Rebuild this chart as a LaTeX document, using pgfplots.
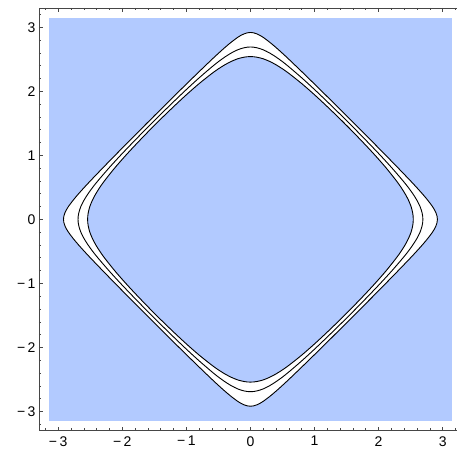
\documentclass[border=0pt]{standalone}
\usepackage{pgfplots}
\pgfplotsset{compat=1.18}
\usepackage{fontspec}
\setmainfont{Liberation Sans}
\definecolor{shade}{RGB}{178,202,255}
\definecolor{framecol}{RGB}{70,70,70}
\newcommand{\mn}{−\kern2.5pt}

\begin{document}
\begin{tikzpicture}
\begin{axis}[
  name=ax,
  scale only axis,
  width=422.9pt, height=422.7pt,
  xmin=-3.3, xmax=3.3, ymin=-3.3, ymax=3.3,
  axis on top,
  axis line style={framecol, line width=0.7pt},
  every tick/.style={framecol, line width=0.6pt},
  tick align=inside,
  major tick length=4pt,
  minor tick length=2.3pt,
  xtick={-3,-2,-1,0,1,2,3},
  ytick={-3,-2,-1,0,1,2,3},
  minor xtick={-3.2,-2.8,-2.6,-2.4,-2.2,-1.8,-1.6,-1.4,-1.2,-0.8,-0.6,-0.4,-0.2,0.2,0.4,0.6,0.8,1.2,1.4,1.6,1.8,2.2,2.4,2.6,2.8,3.2},
  minor ytick={-3.2,-2.8,-2.6,-2.4,-2.2,-1.8,-1.6,-1.4,-1.2,-0.8,-0.6,-0.4,-0.2,0.2,0.4,0.6,0.8,1.2,1.4,1.6,1.8,2.2,2.4,2.6,2.8,3.2},
  xticklabels={\mn3,\mn2,\mn1,0,1,2,3},
  yticklabels={\mn3,\mn2,\mn1,0,1,2,3},
  ticklabel style={font=\fontsize{14}{16}\selectfont, black},
  xticklabel style={yshift=-2pt},
  xtick pos=both, ytick pos=both,
  xticklabel pos=lower, yticklabel pos=left,
]
% shaded square
\addplot[fill=shade, draw=none] coordinates {(-3.1416,-3.1416) (3.1416,-3.1416) (3.1416,3.1416) (-3.1416,3.1416)} -- cycle;

% outer contour, white inside
\addplot[smooth, fill=white, draw=black, line width=0.9pt] coordinates {
(0,2.918) (0.05,2.912) (0.1,2.896) (0.15,2.872) (0.2,2.841) (0.3,2.766) (0.4,2.682) (0.5,2.592) (0.6,2.499) (0.8,2.307) (1.0,2.112) (1.2,1.915) (1.4,1.716) (1.5,1.617) (1.558,1.558) (1.617,1.5) (1.716,1.4) (1.915,1.2) (2.112,1.0) (2.307,0.8) (2.499,0.6) (2.592,0.5) (2.682,0.4) (2.766,0.3) (2.841,0.2) (2.872,0.15) (2.896,0.1) (2.912,0.05) (2.918,0)
(2.912,-0.05) (2.896,-0.1) (2.872,-0.15) (2.841,-0.2) (2.766,-0.3) (2.682,-0.4) (2.592,-0.5) (2.499,-0.6) (2.307,-0.8) (2.112,-1.0) (1.915,-1.2) (1.716,-1.4) (1.617,-1.5) (1.558,-1.558) (1.5,-1.617) (1.4,-1.716) (1.2,-1.915) (1.0,-2.112) (0.8,-2.307) (0.6,-2.499) (0.5,-2.592) (0.4,-2.682) (0.3,-2.766) (0.2,-2.841) (0.15,-2.872) (0.1,-2.896) (0.05,-2.912) (0,-2.918)
(-0.05,-2.912) (-0.1,-2.896) (-0.15,-2.872) (-0.2,-2.841) (-0.3,-2.766) (-0.4,-2.682) (-0.5,-2.592) (-0.6,-2.499) (-0.8,-2.307) (-1.0,-2.112) (-1.2,-1.915) (-1.4,-1.716) (-1.5,-1.617) (-1.558,-1.558) (-1.617,-1.5) (-1.716,-1.4) (-1.915,-1.2) (-2.112,-1.0) (-2.307,-0.8) (-2.499,-0.6) (-2.592,-0.5) (-2.682,-0.4) (-2.766,-0.3) (-2.841,-0.2) (-2.872,-0.15) (-2.896,-0.1) (-2.912,-0.05) (-2.918,0)
(-2.912,0.05) (-2.896,0.1) (-2.872,0.15) (-2.841,0.2) (-2.766,0.3) (-2.682,0.4) (-2.592,0.5) (-2.499,0.6) (-2.307,0.8) (-2.112,1.0) (-1.915,1.2) (-1.716,1.4) (-1.617,1.5) (-1.558,1.558) (-1.5,1.617) (-1.4,1.716) (-1.2,1.915) (-1.0,2.112) (-0.8,2.307) (-0.6,2.499) (-0.5,2.592) (-0.4,2.682) (-0.3,2.766) (-0.2,2.841) (-0.15,2.872) (-0.1,2.896) (-0.05,2.912) (0,2.918)
};

% inner contour, shaded inside
\addplot[smooth, fill=shade, draw=black, line width=0.9pt] coordinates {
(0,2.541) (0.05,2.539) (0.1,2.532) (0.15,2.521) (0.2,2.507) (0.3,2.466) (0.4,2.413) (0.5,2.350) (0.6,2.279) (0.8,2.120) (1.0,1.945) (1.2,1.759) (1.4,1.566) (1.483,1.483) (1.566,1.4) (1.759,1.2) (1.945,1.0) (2.120,0.8) (2.279,0.6) (2.350,0.5) (2.413,0.4) (2.466,0.3) (2.507,0.2) (2.521,0.15) (2.532,0.1) (2.539,0.05) (2.541,0)
(2.539,-0.05) (2.532,-0.1) (2.521,-0.15) (2.507,-0.2) (2.466,-0.3) (2.413,-0.4) (2.350,-0.5) (2.279,-0.6) (2.120,-0.8) (1.945,-1.0) (1.759,-1.2) (1.566,-1.4) (1.483,-1.483) (1.4,-1.566) (1.2,-1.759) (1.0,-1.945) (0.8,-2.120) (0.6,-2.279) (0.5,-2.350) (0.4,-2.413) (0.3,-2.466) (0.2,-2.507) (0.15,-2.521) (0.1,-2.532) (0.05,-2.539) (0,-2.541)
(-0.05,-2.539) (-0.1,-2.532) (-0.15,-2.521) (-0.2,-2.507) (-0.3,-2.466) (-0.4,-2.413) (-0.5,-2.350) (-0.6,-2.279) (-0.8,-2.120) (-1.0,-1.945) (-1.2,-1.759) (-1.4,-1.566) (-1.483,-1.483) (-1.566,-1.4) (-1.759,-1.2) (-1.945,-1.0) (-2.120,-0.8) (-2.279,-0.6) (-2.350,-0.5) (-2.413,-0.4) (-2.466,-0.3) (-2.507,-0.2) (-2.521,-0.15) (-2.532,-0.1) (-2.539,-0.05) (-2.541,0)
(-2.539,0.05) (-2.532,0.1) (-2.521,0.15) (-2.507,0.2) (-2.466,0.3) (-2.413,0.4) (-2.350,0.5) (-2.279,0.6) (-2.120,0.8) (-1.945,1.0) (-1.759,1.2) (-1.566,1.4) (-1.483,1.483) (-1.4,1.566) (-1.2,1.759) (-1.0,1.945) (-0.8,2.120) (-0.6,2.279) (-0.5,2.350) (-0.4,2.413) (-0.3,2.466) (-0.2,2.507) (-0.15,2.521) (-0.1,2.532) (-0.05,2.539) (0,2.541)
};

% middle contour
\addplot[smooth, draw=black, line width=0.9pt] coordinates {
(0,2.691) (0.05,2.688) (0.1,2.679) (0.15,2.665) (0.2,2.647) (0.3,2.597) (0.4,2.534) (0.5,2.462) (0.6,2.382) (0.8,2.210) (1.0,2.027) (1.2,1.836) (1.4,1.641) (1.5,1.542) (1.521,1.521) (1.542,1.5) (1.641,1.4) (1.836,1.2) (2.027,1.0) (2.210,0.8) (2.382,0.6) (2.462,0.5) (2.534,0.4) (2.597,0.3) (2.647,0.2) (2.665,0.15) (2.679,0.1) (2.688,0.05) (2.691,0)
(2.688,-0.05) (2.679,-0.1) (2.665,-0.15) (2.647,-0.2) (2.597,-0.3) (2.534,-0.4) (2.462,-0.5) (2.382,-0.6) (2.210,-0.8) (2.027,-1.0) (1.836,-1.2) (1.641,-1.4) (1.542,-1.5) (1.521,-1.521) (1.5,-1.542) (1.4,-1.641) (1.2,-1.836) (1.0,-2.027) (0.8,-2.210) (0.6,-2.382) (0.5,-2.462) (0.4,-2.534) (0.3,-2.597) (0.2,-2.647) (0.15,-2.665) (0.1,-2.679) (0.05,-2.688) (0,-2.691)
(-0.05,-2.688) (-0.1,-2.679) (-0.15,-2.665) (-0.2,-2.647) (-0.3,-2.597) (-0.4,-2.534) (-0.5,-2.462) (-0.6,-2.382) (-0.8,-2.210) (-1.0,-2.027) (-1.2,-1.836) (-1.4,-1.641) (-1.5,-1.542) (-1.521,-1.521) (-1.542,-1.5) (-1.641,-1.4) (-1.836,-1.2) (-2.027,-1.0) (-2.210,-0.8) (-2.382,-0.6) (-2.462,-0.5) (-2.534,-0.4) (-2.597,-0.3) (-2.647,-0.2) (-2.665,-0.15) (-2.679,-0.1) (-2.688,-0.05) (-2.691,0)
(-2.688,0.05) (-2.679,0.1) (-2.665,0.15) (-2.647,0.2) (-2.597,0.3) (-2.534,0.4) (-2.462,0.5) (-2.382,0.6) (-2.210,0.8) (-2.027,1.0) (-1.836,1.2) (-1.641,1.4) (-1.542,1.5) (-1.521,1.521) (-1.5,1.542) (-1.4,1.641) (-1.2,1.836) (-1.0,2.027) (-0.8,2.210) (-0.6,2.382) (-0.5,2.462) (-0.4,2.534) (-0.3,2.597) (-0.2,2.647) (-0.15,2.665) (-0.1,2.679) (-0.05,2.688) (0,2.691)
};
\end{axis}
\pgfresetboundingbox
\path ([xshift=-39pt,yshift=-23.3pt]ax.south west) rectangle ([xshift=-4.9pt,yshift=8pt]ax.north east);
\end{tikzpicture}
\end{document}
